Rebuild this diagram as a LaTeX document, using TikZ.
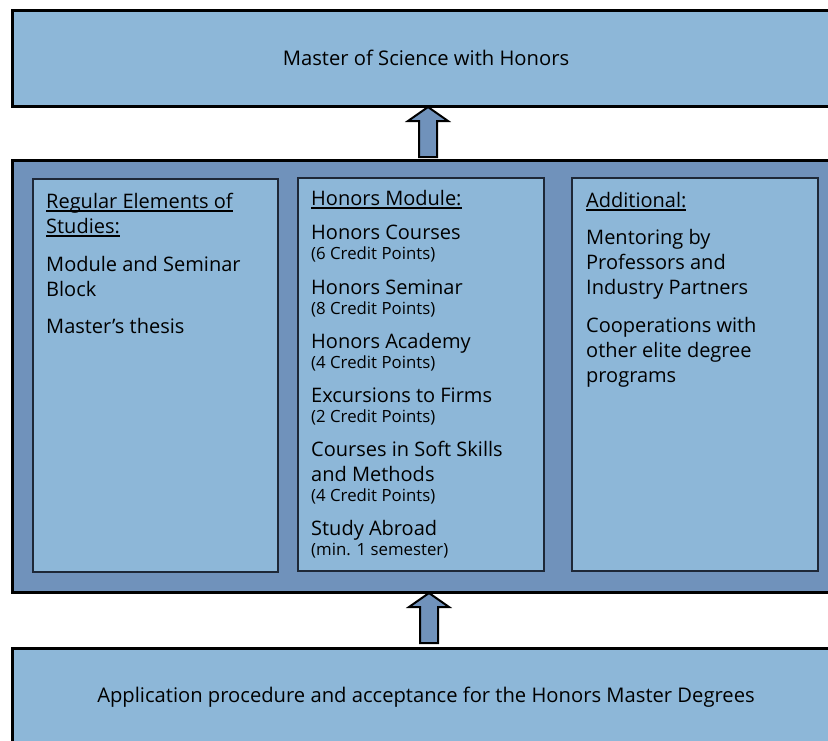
\documentclass[tikz,border=0pt]{standalone}
\usepackage{fontspec}
\setmainfont{Open Sans}
\usetikzlibrary{positioning}
\definecolor{lightblue}{RGB}{141,183,216}
\definecolor{midblue}{RGB}{112,146,187}
\definecolor{innerline}{RGB}{30,40,55}
\tikzset{
  outerbox/.style={draw=black,line width=3pt,fill=lightblue},
  middlebox/.style={draw=black,line width=3pt,fill=midblue},
  innerbox/.style={draw=innerline,line width=1.5pt,fill=lightblue},
  bigarrow/.style={draw=black,line width=2pt,fill=midblue,line join=miter},
  maintxt/.style={anchor=base west,inner sep=0pt,font=\fontsize{20}{24}\selectfont},
  smalltxt/.style={anchor=base west,inner sep=0pt,font=\fontsize{16.8}{20}\selectfont},
  wide/.style={inner sep=0pt,font=\fontsize{20.2}{24}\selectfont},
}
\newcommand{\ul}[1]{\setbox0\hbox{#1}\rlap{\rule[-4pt]{\wd0}{1.8pt}}\box0}
\begin{document}
\begin{tikzpicture}[x=1pt,y=-1pt]
\useasboundingbox (0,0) rectangle (828,740);
% outer boxes
\draw[outerbox] (12,10) rectangle (850,106);
\node[wide] (top) at (426,58) {Master of Science with Honors};
\draw[middlebox] (12,160) rectangle (850,592);
\draw[outerbox] (12,648) rectangle (850,760);
\node[wide] (bot) at (426,697) {Application procedure and acceptance for the Honors Master Degrees};
% inner boxes
\draw[innerbox] (33,179) rectangle (278,572);
\draw[innerbox] (298,178) rectangle (544,571);
\draw[innerbox] (572,178) rectangle (818,571);
% arrows
\draw[bigarrow] (419,157) -- (419,121) -- (408,121) -- (428,107) -- (448,121) -- (437,121) -- (437,157) -- cycle;
\draw[bigarrow] (420,643) -- (420,607) -- (409,607) -- (429,593) -- (449,607) -- (438,607) -- (438,643) -- cycle;
% left column
\node[maintxt] (l1) at (46,208) {\ul{Regular Elements of}};
\node[maintxt] (l2) at (46,233) {\ul{Studies:}};
\node[maintxt] (l3) at (46,271) {Module and Seminar};
\node[maintxt] (l4) at (46,296) {Block};
\node[maintxt] (l5) at (46,333) {Master’s thesis};
% middle column
\node[maintxt] (m0) at (311,205) {\ul{Honors Module:}};
\node[maintxt] (m1) at (311,239) {Honors Courses};
\node[smalltxt] (m1s) at (311,259) {(6 Credit Points)};
\node[maintxt] (m2) at (311,294) {Honors Seminar};
\node[smalltxt] (m2s) at (311,314) {(8 Credit Points)};
\node[maintxt] (m3) at (311,348) {Honors Academy};
\node[smalltxt] (m3s) at (311,368) {(4 Credit Points)};
\node[maintxt] (m4) at (311,402) {Excursions to Firms};
\node[smalltxt] (m4s) at (311,422) {(2 Credit Points)};
\node[maintxt] (m5) at (311,456) {Courses in Soft Skills};
\node[maintxt] (m5b) at (311,481) {and Methods};
\node[smalltxt] (m5s) at (311,501) {(4 Credit Points)};
\node[maintxt] (m6) at (311,535) {Study Abroad};
\node[smalltxt] (m6s) at (311,555) {(min. 1 semester)};
% right column
\node[maintxt] (r0) at (586,207) {\ul{Additional:}};
\node[maintxt] (r1) at (586,244) {Mentoring by};
\node[maintxt] (r2) at (586,269) {Professors and};
\node[maintxt] (r3) at (586,294) {Industry Partners};
\node[maintxt] (r4) at (586,332) {Cooperations with};
\node[maintxt] (r5) at (586,357) {other elite degree};
\node[maintxt] (r6) at (586,382) {programs};
\end{tikzpicture}
\end{document}
